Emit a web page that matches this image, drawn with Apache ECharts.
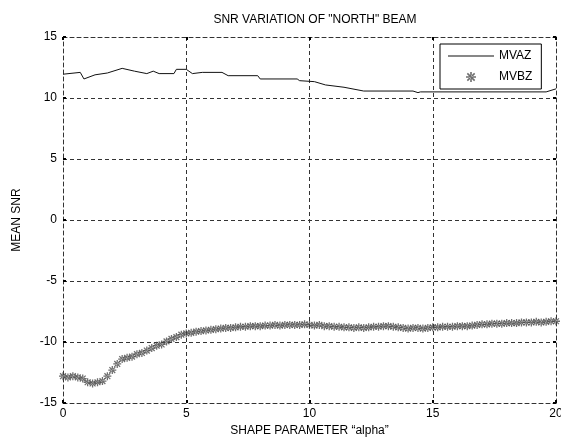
<!DOCTYPE html>
<html>
<head>
<meta charset="utf-8">
<script src="https://cdn.jsdelivr.net/npm/echarts@6/dist/echarts.min.js"></script>
<style>
  html, body { margin: 0; padding: 0; background: #fff; }
  #chart { width: 561px; height: 442px; }
</style>
</head>
<body>
<div id="chart"></div>
<script>
// MVAZ: breakpoints (alpha, SNR)
const mvazAlpha = [0, 0.7, 0.85, 1.3, 1.8, 2.4, 2.9, 3.4, 3.66, 3.9, 4.5, 4.6, 5.0, 5.25, 5.65, 6.45, 6.7, 7.9, 8.0, 9.5, 9.6, 10.2, 10.65, 11.4, 12.2, 14.2, 14.4, 14.5, 19.6, 20];
const mvazSnr   = [11.95, 12.1, 11.56, 11.9, 12.05, 12.43, 12.2, 12.0, 12.2, 12.0, 12.0, 12.35, 12.35, 12.0, 12.1, 12.1, 11.83, 11.83, 11.56, 11.56, 11.42, 11.34, 11.07, 10.88, 10.57, 10.57, 10.44, 10.5, 10.5, 10.75];

// MVBZ: sampled every 0.2 of alpha
const mvbzAlpha = [];
for (let i = 0; i <= 100; i++) mvbzAlpha.push(+(i * 0.2).toFixed(1));
const mvbzSnr = [
  -12.8, -12.9, -12.8, -12.9, -13.0, -13.3, -13.4, -13.3, -13.2, -12.8,
  -12.3, -11.8, -11.4, -11.3, -11.2, -11.0, -10.9, -10.7, -10.5, -10.3,
  -10.2, -9.95, -9.75, -9.6, -9.4, -9.3, -9.25, -9.15, -9.1, -9.05,
  -9.0, -8.95, -8.9, -8.85, -8.85, -8.8, -8.75, -8.75, -8.7, -8.7,
  -8.7, -8.65, -8.65, -8.6, -8.65, -8.6, -8.6, -8.6, -8.6, -8.55,
  -8.6, -8.65, -8.6, -8.7, -8.7, -8.75, -8.75, -8.8, -8.8, -8.85,
  -8.8, -8.85, -8.8, -8.75, -8.75, -8.7, -8.7, -8.75, -8.8, -8.85,
  -8.9, -8.85, -8.85, -8.9, -8.85, -8.8, -8.8, -8.75, -8.75, -8.75,
  -8.7, -8.7, -8.7, -8.65, -8.6, -8.55, -8.55, -8.5, -8.5, -8.5,
  -8.45, -8.45, -8.45, -8.4, -8.4, -8.4, -8.35, -8.4, -8.35, -8.3,
  -8.3
];

const FONT = 'Liberation Sans';
const asterisk = 'path://M4.2,0h1.6v10h-1.6z M0,4.2h10v1.6h-10z M0.8,1.9l1.1,-1.1l7.3,7.3l-1.1,1.1z M9.2,1.9l-1.1,-1.1l-7.3,7.3l1.1,1.1z';

const chart = echarts.init(document.getElementById('chart'));

const dashed = { color: '#333', width: 1, type: [4, 3] };
const tickStyle = { show: true, inside: true, length: 3, lineStyle: { color: '#000', width: 2 } };

chart.setOption({
  animation: false,
  backgroundColor: '#fff',
  textStyle: { fontFamily: FONT },
  title: {
    text: 'SNR VARIATION OF "NORTH" BEAM',
    left: 310, top: 9, textAlign: 'center',
    textStyle: { fontFamily: FONT, fontSize: 12, fontWeight: 'normal', color: '#000' }
  },
  grid: { left: 63, right: 5, top: 37, bottom: 39, containLabel: false, outerBoundsMode: 'none' },
  legend: {
    left: 440, top: 44,
    orient: 'vertical', align: 'left',
    itemWidth: 46, itemHeight: 10, itemGap: 9,
    padding: [6, 9, 6, 8],
    borderColor: '#000', borderWidth: 1, backgroundColor: '#fff',
    textStyle: { fontFamily: FONT, fontSize: 12, color: '#000' },
    data: [
      { name: 'MVAZ', icon: 'path://M0,4.5h46v1h-46z' },
      { name: 'MVBZ' }
    ]
  },
  xAxis: [{
    type: 'value', min: 0, max: 20, interval: 5,
    name: 'SHAPE PARAMETER \u201calpha\u201d', nameLocation: 'middle', nameGap: 22,
    nameTextStyle: { fontFamily: FONT, fontSize: 12, color: '#000' },
    axisLine: { show: true, onZero: false, lineStyle: dashed },
    axisTick: tickStyle,
    axisLabel: { fontFamily: FONT, fontSize: 12, color: '#000', margin: 5 },
    splitLine: { show: true, showMinLine: false, showMaxLine: false, lineStyle: dashed }
  }, {
    type: 'value', min: 0, max: 20, interval: 5, position: 'top',
    axisLine: { show: true, onZero: false, lineStyle: dashed },
    axisTick: tickStyle,
    axisLabel: { show: false },
    splitLine: { show: false }
  }],
  yAxis: [{
    type: 'value', min: -15, max: 15, interval: 5,
    name: 'MEAN SNR', nameLocation: 'middle', nameGap: 40,
    nameTextStyle: { fontFamily: FONT, fontSize: 12, color: '#000' },
    axisLine: { show: true, onZero: false, lineStyle: dashed },
    axisTick: tickStyle,
    axisLabel: { fontFamily: FONT, fontSize: 12, color: '#000', margin: 6 },
    splitLine: { show: true, showMinLine: false, showMaxLine: false, lineStyle: dashed }
  }, {
    type: 'value', min: -15, max: 15, interval: 5, position: 'right',
    axisLine: { show: true, onZero: false, lineStyle: dashed },
    axisTick: tickStyle,
    axisLabel: { show: false },
    splitLine: { show: false }
  }],
  series: [{
    name: 'MVAZ', type: 'line', symbol: 'none',
    lineStyle: { color: '#111', width: 1 },
    itemStyle: { color: '#111' },
    data: mvazAlpha.map((a, i) => [a, mvazSnr[i]]),
    z: 3
  }, {
    name: 'MVBZ', type: 'scatter', symbol: asterisk, symbolSize: 8,
    itemStyle: { color: '#4a4a4a' },
    data: mvbzAlpha.map((a, i) => [a, mvbzSnr[i]]),
    z: 3
  }]
});
</script>
</body>
</html>
